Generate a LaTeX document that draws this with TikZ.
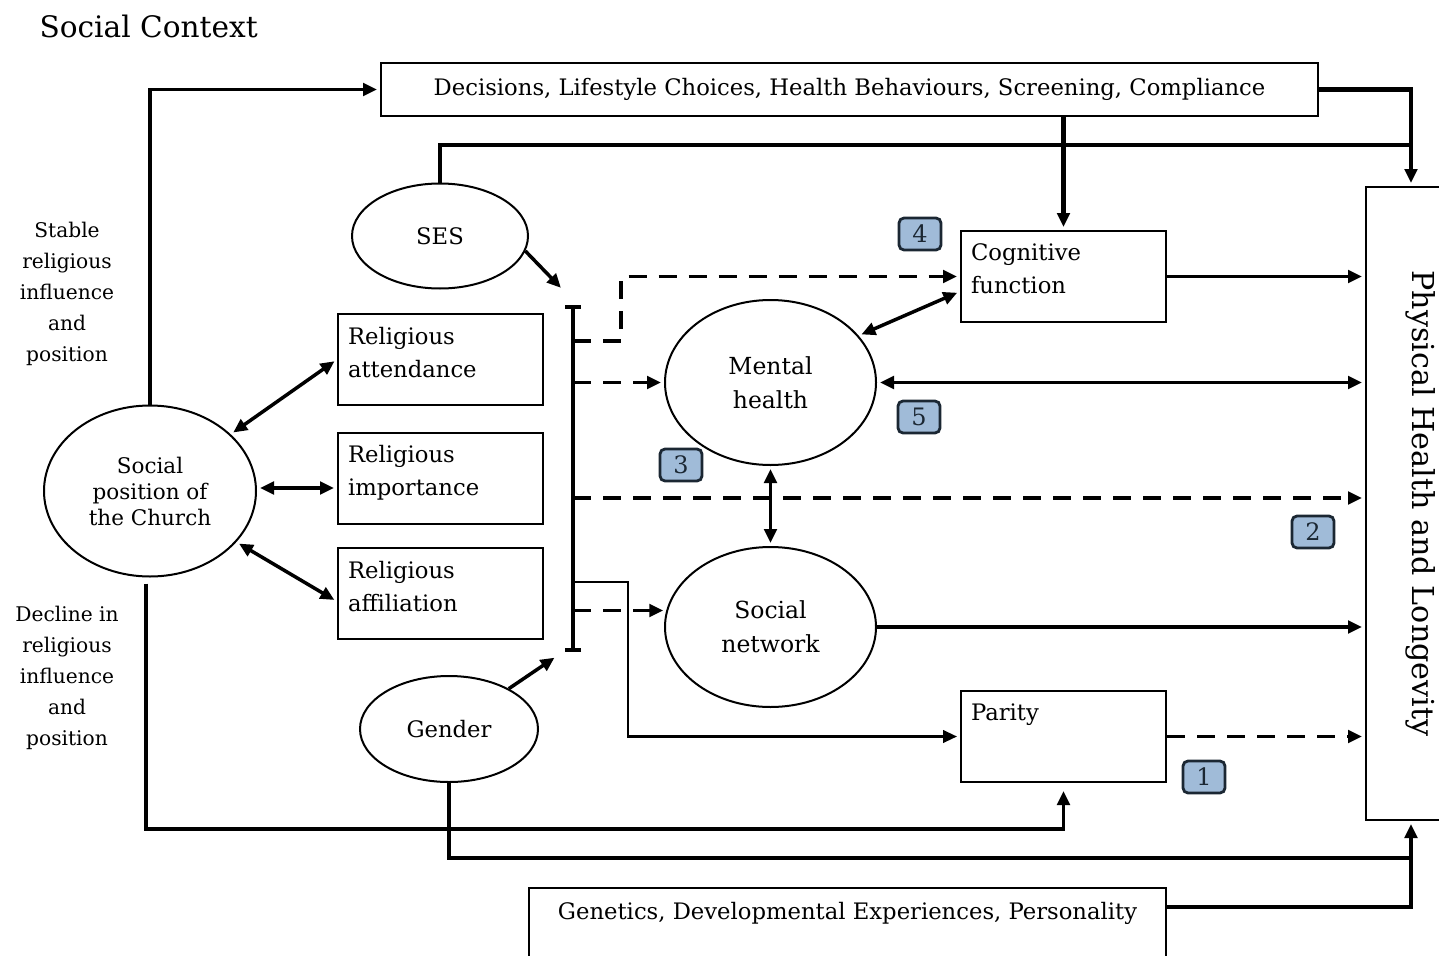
\documentclass[tikz,border=0pt]{standalone}
\usepackage{fontspec}
\setmainfont{DejaVu Serif}
\usetikzlibrary{arrows.meta,positioning,calc,shapes.geometric}
\definecolor{ink}{HTML}{1B2733}
\definecolor{badgefill}{HTML}{A0BBD8}

\begin{document}
\begin{tikzpicture}[x=1pt,y=-1pt,
  font=\fontsize{22.7}{33}\selectfont,
  boxnode/.style={draw,line width=2pt,inner xsep=8pt,align=left,text width=185pt,
                  minimum width=205pt,minimum height=91pt},
  ellnode/.style={draw,ellipse,line width=2pt,inner sep=0pt,align=center},
  badge/.style={draw=ink,fill=badgefill,line width=2.8pt,rounded corners=5pt,
                minimum width=42pt,minimum height=32pt,inner sep=0pt,text=ink,
                font=\fontsize{24}{28}\selectfont},
  sidelbl/.style={align=center,font=\fontsize{20.2}{31}\selectfont},
  tip/.style={-{Triangle[length=14pt,width=12.5pt]},shorten >=3pt},
  twotip/.style={{Triangle[length=14pt,width=12.5pt]}-{Triangle[length=14pt,width=12.5pt]},
                 shorten >=3pt,shorten <=3pt},
  link/.style={line width=3.5pt},
  trunk/.style={line width=4.5pt},
  dsh/.style={line width=3.5pt,dash pattern=on 18pt off 12pt}]
\useasboundingbox (0,0) rectangle (1439,955);
\clip (0,0) rectangle (1439,955);

\node[anchor=west,font=\fontsize{29.6}{34}\selectfont] (title) at (36,26) {Social Context};
\node[draw,line width=2pt,minimum width=937pt,minimum height=53pt] (dec) at (849.5,89.5)
  {Decisions, Lifestyle Choices, Health Behaviours, Screening, Compliance};

\node[ellnode,minimum width=176pt,minimum height=105pt] (ses) at (440,236) {SES};
\node[ellnode,minimum width=212pt,minimum height=171pt,font=\fontsize{21.5}{26}\selectfont]
  (church) at (150,491) {Social\\position of\\the Church};
\node[ellnode,minimum width=178pt,minimum height=106pt] (gen) at (449,729) {Gender};

\node[boxnode] (att) at (440.5,359.5) {Religious\\attendance\\[-18pt]\mbox{}};
\node[boxnode] (imp) at (440.5,478) {Religious\\importance\\[-18pt]\mbox{}};
\node[boxnode] (aff) at (440.5,593.5) {Religious\\affiliation\\[-18pt]\mbox{}};

\node[ellnode,minimum width=211pt,minimum height=165pt,font=\fontsize{23.5}{34}\selectfont]
  (mh) at (770.5,382.5) {Mental\\health};
\node[ellnode,minimum width=211pt,minimum height=160pt,font=\fontsize{23.5}{34}\selectfont]
  (sn) at (770.5,627) {Social\\network};

\node[boxnode] (cog) at (1063.5,276.5) {Cognitive\\function\\[-18pt]\mbox{}};
\node[boxnode] (par) at (1063.5,736.5) {Parity\\\mbox{}\\[-18pt]\mbox{}};

\node[draw,line width=2pt,rotate=-90,minimum width=633pt,minimum height=110pt,
      font=\fontsize{30.2}{36}\selectfont] (phys) at (1421,503.5) {Physical Health and Longevity};
\node[draw,line width=2pt,align=center,minimum width=637pt,minimum height=78pt]
  (gene) at (847.5,927) {Genetics, Developmental Experiences, Personality\\\mbox{}};

\node[sidelbl] (stable) at (67,294) {Stable\\religious\\influence\\and\\position};
\node[sidelbl] (decline) at (67,678) {Decline in\\religious\\influence\\and\\position};

\node[badge] (n4) at (920,234) {4};
\node[badge] (n5) at (919,417) {5};
\node[badge] (n3) at (681,465) {3};
\node[badge] (n2) at (1313,532) {2};
\node[badge] (n1) at (1204,777) {1};

\coordinate (brtop) at (573,305);
\coordinate (brbot) at (573,652);
\coordinate (bcog) at (573,341);
\coordinate (bphys) at (573,498);
\coordinate (bpar) at (573,582);
\coordinate (topj) at (1411,145);
\coordinate (botj) at (1411,858);

% the bracket and what feeds it
\draw[{Bar[width=16pt]}-{Bar[width=16pt]},line width=4pt] (brtop) -- (brbot);
\draw[link,tip] (ses.-10) -- ($(brtop)+(-10,-15)$);
\draw[link,tip] (gen.34) -- ($(brbot)+(-16,4)$);

% out of the bracket
\draw[dsh,tip] (bcog) -- ++(48,0) |- (cog.west);
\draw[dsh,tip] (mh.west -| brtop) -- (mh.west);
\draw[dsh,tip] (bphys) -- (bphys -| phys.south);
\draw[dsh,tip] (sn.171 -| brtop) -- (sn.171);
\draw[line width=2.5pt,tip] (bpar) -- ++(55,0) |- (par.west);

% the church
\draw[link,twotip] (church) -- (att.west);
\draw[link,twotip] ($(church.east)+(0,-3)$) -- ($(church.east -| imp.west)+(0,-3)$);
\draw[link,twotip] (church) -- ($(aff.west)+(0,8)$);
\draw[link,tip] (church.north) |- (dec.west);
\draw[link,tip,shorten >=8pt] ($(church.south)+(-4,6)$) |- ($(par.south)+(0,46)$) -- (par.south);

% top and bottom trunks
\draw[trunk] (ses.north) |- (topj);
\draw[trunk,tip] (dec.east) -| (phys.west -| topj);
\draw[trunk,tip] (dec.south -| cog.north) -- (cog.north);
\draw[trunk] (gen.south) |- (botj);
\draw[trunk] ($(gene.north east)+(0,20)$) -| (botj);
\draw[trunk,tip] (botj) -- (phys.east -| botj);

% into physical health
\draw[link,tip] (cog.east) -- (cog.east -| phys.south);
\draw[link,twotip] (mh.east) -- (mh.east -| phys.south);
\draw[link,tip] (sn.east) -- (sn.east -| phys.south);
\draw[dsh,tip] (par.east) -- (par.east -| phys.south);

% mental health
\draw[link,twotip] (mh.28) -- ($(cog.west)+(0,15)$);
\draw[link,twotip] (mh.south) -- (sn.north);
\end{tikzpicture}
\end{document}
